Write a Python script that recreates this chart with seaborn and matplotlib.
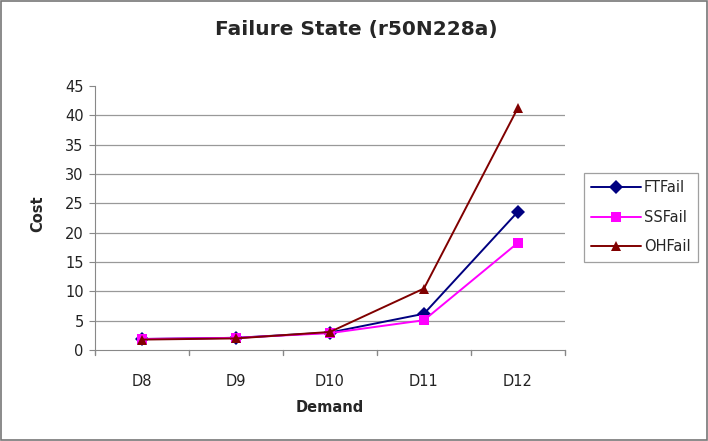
import pandas as pd
import seaborn as sns
import matplotlib.pyplot as plt
from matplotlib.patches import Rectangle

# Values
demand = ['D8', 'D9', 'D10', 'D11', 'D12']
ft_fail = [1.9, 2.1, 3.0, 6.2, 23.6]
ss_fail = [1.9, 2.1, 2.9, 5.1, 18.3]
oh_fail = [1.8, 2.0, 3.1, 10.5, 41.3]
series_names = ['FTFail', 'SSFail', 'OHFail']
y_ticks = [0, 5, 10, 15, 20, 25, 30, 35, 40, 45]

df = pd.DataFrame({
    'Demand': demand * 3,
    'Cost': ft_fail + ss_fail + oh_fail,
    'Series': [s for s in series_names for _ in demand],
})

sns.set_style('white')
plt.rcParams['font.family'] = ['DejaVu Sans']

fig = plt.figure(figsize=(7.08, 4.41), dpi=100)
ax = fig.add_axes([0.134, 0.206, 0.664, 0.599])

palette = {'FTFail': '#000080', 'SSFail': '#ff00ff', 'OHFail': '#800000'}
sns.lineplot(data=df, x='Demand', y='Cost', hue='Series', style='Series',
             palette=palette, markers=['D', 's', '^'], dashes=False,
             markersize=7.5, linewidth=1.4, markeredgewidth=0, sort=False, ax=ax)

ax.set_xlim(-0.5, 4.5)
ax.set_ylim(0, 45)
ax.set_yticks(y_ticks)
ax.tick_params(axis='both', labelsize=10.5, colors='#222222', length=0)
ax.tick_params(axis='x', pad=17)
ax.tick_params(axis='y', length=4, color='#888888', direction='out', left=True, pad=4)

# horizontal gridlines (none at the top value)
for v in y_ticks[1:-1]:
    ax.axhline(v, color='#999999', linewidth=0.9, zorder=0)

# Excel-style tick marks between categories
for b in [-0.5, 0.5, 1.5, 2.5, 3.5, 4.5]:
    ax.plot([b, b], [0, -0.8], color='#888888', linewidth=1, clip_on=False)

for side in ['top', 'right']:
    ax.spines[side].set_visible(False)
ax.spines['left'].set_color('#888888')
ax.spines['bottom'].set_color('#888888')

ax.set_xlabel('')
ax.set_ylabel('')
fig.text(0.503, 0.932, 'Failure State (r50N228a)', ha='center', va='center',
         fontsize=14.5, fontweight='bold')
fig.text(0.054, 0.515, 'Cost', ha='center', va='center', rotation=90,
         fontsize=10.5, fontweight='bold')
fig.text(0.466, 0.077, 'Demand', ha='center', va='center',
         fontsize=10.5, fontweight='bold')

leg = ax.legend(loc='upper left', bbox_to_anchor=(0.825, 0.608),
                bbox_transform=fig.transFigure, frameon=True, fontsize=10.5,
                handlelength=3.4, handletextpad=0.2, borderpad=0.5,
                labelspacing=1.0, fancybox=False, borderaxespad=0)
leg.get_frame().set_edgecolor('#888888')
leg.get_frame().set_linewidth(0.9)

# outer chart border
fig.patches.append(Rectangle((0.002, 0.003), 0.996, 0.994, transform=fig.transFigure,
                             fill=False, edgecolor='#777777', linewidth=1.2))

fig.savefig('out.png', dpi=100)
plt.close(fig)
